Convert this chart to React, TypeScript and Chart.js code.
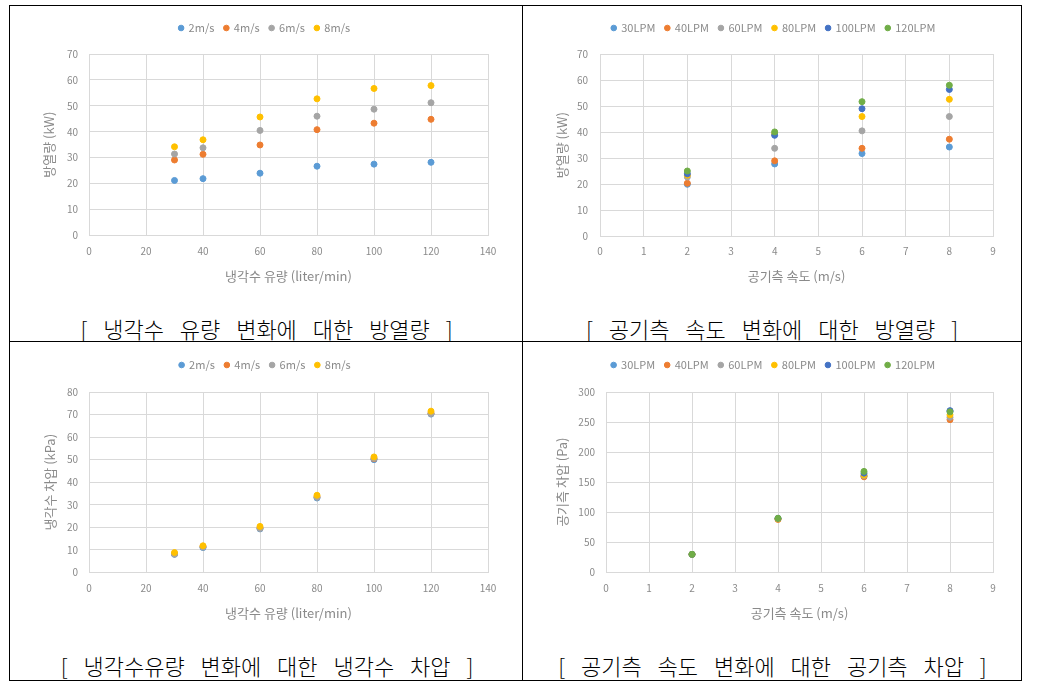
import React, { useEffect, useRef } from "react";
import { Chart, registerables } from "chart.js";

Chart.register(...registerables);

const FONT = "'Noto Sans CJK KR', 'Noto Sans', sans-serif";
const TEXT = "#8a8a8a";
const GRID = "#d9d9d9";

const BLUE = "#5B9BD5";
const ORANGE = "#ED7D31";
const GRAY = "#A5A5A5";
const GOLD = "#FFC000";
const NAVY = "#4472C4";
const GREEN = "#70AD47";

// ---- data ----
const coolantFlow = [30, 40, 60, 80, 100, 120];
const airSpeed = [2, 4, 6, 8];
const speedLabels = ["2m/s", "4m/s", "6m/s", "8m/s"];
const flowLabels = ["30LPM", "40LPM", "60LPM", "80LPM", "100LPM", "120LPM"];

// chart 1: heat release (kW) vs coolant flow, per air speed
const heatSpeed2 = [21.2, 21.9, 24.0, 26.7, 27.5, 28.2];
const heatSpeed4 = [29.1, 31.3, 34.9, 40.8, 43.3, 44.8];
const heatSpeed6 = [31.4, 33.8, 40.5, 46.0, 48.7, 51.2];
const heatSpeed8 = [34.2, 36.9, 45.7, 52.7, 56.7, 57.8];

// chart 2: heat release (kW) vs air speed, per coolant flow
const heatFlow30 = [20.0, 27.8, 31.8, 34.3];
const heatFlow40 = [20.4, 29.0, 33.8, 37.3];
const heatFlow60 = [22.8, 33.8, 40.5, 46.0];
const heatFlow80 = [23.5, 39.3, 46.0, 52.6];
const heatFlow100 = [24.0, 38.8, 49.0, 56.4];
const heatFlow120 = [25.1, 40.1, 51.7, 58.0];

// chart 3: coolant pressure drop (kPa) vs coolant flow, per air speed
const dpSpeed2 = [8.0, 11.0, 19.3, 33.0, 50.0, 70.2];
const dpSpeed4 = [8.3, 11.4, 19.7, 33.5, 50.4, 70.6];
const dpSpeed6 = [8.1, 11.2, 19.5, 33.3, 50.6, 70.5];
const dpSpeed8 = [8.8, 11.8, 20.4, 34.2, 51.2, 71.5];

// chart 4: air pressure drop (Pa) vs air speed, per coolant flow
const apFlow30 = [30, 89, 160, 268];
const apFlow40 = [30, 88, 159, 254];
const apFlow60 = [30, 89, 161, 258];
const apFlow80 = [30, 89, 162, 262];
const apFlow100 = [30, 90, 165, 269];
const apFlow120 = [30, 90, 168, 267];

const speedColors = [BLUE, ORANGE, GRAY, GOLD];
const flowColors = [BLUE, ORANGE, GRAY, GOLD, NAVY, GREEN];

type Series = { label: string; color: string; x: number[]; y: number[] };

type PanelSpec = {
  rect: { left: number; top: number; width: number; height: number };
  pad: { left: number; right: number; top: number; bottom: number };
  legendExtra: number;
  yAxisWidth: number;
  xAxisHeight: number;
  xTickPad: number;
  yTickPad: number;
  xMin: number;
  xMax: number;
  xStep: number;
  yMin: number;
  yMax: number;
  yStep: number;
  xTitle: string;
  yTitle: string;
  series: Series[];
};

const legendGapPlugin = {
  id: "legendGap",
  afterInit(chart: any, _args: any, opts: any) {
    const legend = chart.legend;
    if (!legend) return;
    const fit = legend.fit.bind(legend);
    legend.fit = function () {
      fit();
      this.height += (opts && opts.extra) || 0;
    };
  },
};

function ScatterPanel({ spec }: { spec: PanelSpec }) {
  const ref = useRef<HTMLCanvasElement | null>(null);
  useEffect(() => {
    if (!ref.current) return;
    const n = spec.series.length;
    const chart = new Chart(ref.current, {
      type: "scatter",
      data: {
        datasets: spec.series.map((s, i) => ({
          label: s.label,
          data: s.x.map((xv, j) => ({ x: xv, y: s.y[j] })),
          backgroundColor: s.color,
          borderColor: s.color,
          pointRadius: 3,
          pointBorderWidth: 1,
          pointHoverRadius: 3,
          order: n - i,
        })),
      },
      plugins: [legendGapPlugin as any],
      options: {
        responsive: false,
        animation: false,
        devicePixelRatio: 1,
        layout: { padding: spec.pad },
        plugins: {
          legendGap: { extra: spec.legendExtra },
          tooltip: { enabled: false },
          legend: {
            position: "top",
            labels: {
              usePointStyle: true,
              pointStyle: "circle",
              boxWidth: 4,
              boxHeight: 4,
              padding: 10,
              color: TEXT,
              font: { family: FONT, size: 11 },
              sort: (a: any, b: any) => a.datasetIndex - b.datasetIndex,
            },
          },
        } as any,
        scales: {
          x: {
            type: "linear",
            min: spec.xMin,
            max: spec.xMax,
            afterFit: (scale: any) => {
              scale.height = spec.xAxisHeight;
            },
            ticks: {
              stepSize: spec.xStep,
              color: TEXT,
              padding: spec.xTickPad,
              font: { family: FONT, size: 10 },
            },
            grid: { color: GRID, drawTicks: false, lineWidth: 1 },
            border: { color: GRID },
            title: {
              display: true,
              text: spec.xTitle,
              color: TEXT,
              padding: 0,
              font: { family: FONT, size: 13 },
            },
          },
          y: {
            type: "linear",
            min: spec.yMin,
            max: spec.yMax,
            afterFit: (scale: any) => {
              scale.width = spec.yAxisWidth;
            },
            ticks: {
              stepSize: spec.yStep,
              color: TEXT,
              padding: spec.yTickPad,
              font: { family: FONT, size: 10 },
            },
            grid: { color: GRID, drawTicks: false, lineWidth: 1 },
            border: { color: GRID },
            title: {
              display: true,
              text: spec.yTitle,
              color: TEXT,
              padding: 0,
              font: { family: FONT, size: 13 },
            },
          },
        },
      } as any,
    });
    return () => chart.destroy();
  }, [spec]);

  const r = spec.rect;
  return (
    <div style={{ position: "absolute", left: r.left, top: r.top, width: r.width, height: r.height }}>
      <canvas ref={ref} width={r.width} height={r.height} style={{ width: r.width, height: r.height, display: "block" }} />
    </div>
  );
}

const speedSeries = (vals: number[][]): Series[] =>
  vals.map((v, i) => ({ label: speedLabels[i], color: speedColors[i], x: coolantFlow, y: v }));
const flowSeries = (vals: number[][]): Series[] =>
  vals.map((v, i) => ({ label: flowLabels[i], color: flowColors[i], x: airSpeed, y: v }));

const panels: PanelSpec[] = [
  {
    rect: { left: 15, top: 8, width: 500, height: 276 },
    pad: { left: 26.2, right: 27, top: 4.5, bottom: 0 },
    legendExtra: 10.5,
    yAxisWidth: 47.8,
    xAxisHeight: 48.6,
    xTickPad: 10,
    yTickPad: 11,
    xMin: 0, xMax: 140, xStep: 20,
    yMin: 0, yMax: 70, yStep: 10,
    xTitle: "냉각수 유량 (liter/min)",
    yTitle: "방열량 (kW)",
    series: speedSeries([heatSpeed2, heatSpeed4, heatSpeed6, heatSpeed8]),
  },
  {
    rect: { left: 530, top: 8, width: 480, height: 276 },
    pad: { left: 24.2, right: 17, top: 4.5, bottom: 0 },
    legendExtra: 10.5,
    yAxisWidth: 45.8,
    xAxisHeight: 47.6,
    xTickPad: 9,
    yTickPad: 12,
    xMin: 0, xMax: 9, xStep: 1,
    yMin: 0, yMax: 70, yStep: 10,
    xTitle: "공기측 속도 (m/s)",
    yTitle: "방열량 (kW)",
    series: flowSeries([heatFlow30, heatFlow40, heatFlow60, heatFlow80, heatFlow100, heatFlow120]),
  },
  {
    rect: { left: 15, top: 345, width: 500, height: 276 },
    pad: { left: 27.2, right: 27, top: 4.5, bottom: 0 },
    legendExtra: 11.5,
    yAxisWidth: 46.8,
    xAxisHeight: 48.6,
    xTickPad: 10,
    yTickPad: 11,
    xMin: 0, xMax: 140, xStep: 20,
    yMin: 0, yMax: 80, yStep: 10,
    xTitle: "냉각수 유량 (liter/min)",
    yTitle: "냉각수 차압 (kPa)",
    series: speedSeries([dpSpeed2, dpSpeed4, dpSpeed6, dpSpeed8]),
  },
  {
    rect: { left: 530, top: 345, width: 480, height: 276 },
    pad: { left: 23.9, right: 17, top: 4.5, bottom: 0 },
    legendExtra: 11.5,
    yAxisWidth: 52.1,
    xAxisHeight: 48.6,
    xTickPad: 10,
    yTickPad: 11,
    xMin: 0, xMax: 9, xStep: 1,
    yMin: 0, yMax: 300, yStep: 50,
    xTitle: "공기측 속도 (m/s)",
    yTitle: "공기측 차압 (Pa)",
    series: flowSeries([apFlow30, apFlow40, apFlow60, apFlow80, apFlow100, apFlow120]),
  },
];

const captions = [
  { text: "[ 냉각수 유량 변화에 대한 방열량 ]", cx: 266.5, cy: 328 },
  { text: "[ 공기측 속도 변화에 대한 방열량 ]", cx: 772, cy: 328 },
  { text: "[ 냉각수유량 변화에 대한 냉각수 차압 ]", cx: 267, cy: 665 },
  { text: "[ 공기측 속도 변화에 대한 공기측 차압 ]", cx: 772.5, cy: 665 },
];

const lines = [
  { left: 9, top: 5, width: 1013, height: 1 },
  { left: 9, top: 680, width: 1013, height: 1 },
  { left: 9, top: 5, width: 1, height: 676 },
  { left: 1021, top: 5, width: 1, height: 676 },
  { left: 522, top: 5, width: 1, height: 676 },
  { left: 9, top: 341, width: 1013, height: 1 },
];

export default function App() {
  return (
    <div style={{ position: "absolute", left: 0, top: 0, width: 1058, height: 693, background: "#fff" }}>
      {lines.map((l, i) => (
        <div key={"l" + i} style={{ position: "absolute", left: l.left, top: l.top, width: l.width, height: l.height, background: "#000" }} />
      ))}
      {panels.map((p, i) => (
        <ScatterPanel key={"p" + i} spec={p} />
      ))}
      {captions.map((c, i) => (
        <div
          key={"c" + i}
          style={{
            position: "absolute",
            left: c.cx - 250,
            top: c.cy - 11,
            width: 500,
            height: 22,
            lineHeight: "22px",
            textAlign: "center",
            fontFamily: FONT,
            fontSize: 22,
            fontWeight: 300,
            wordSpacing: 11,
            whiteSpace: "pre",
            color: "#000",
          }}
        >
          {c.text}
        </div>
      ))}
    </div>
  );
}
